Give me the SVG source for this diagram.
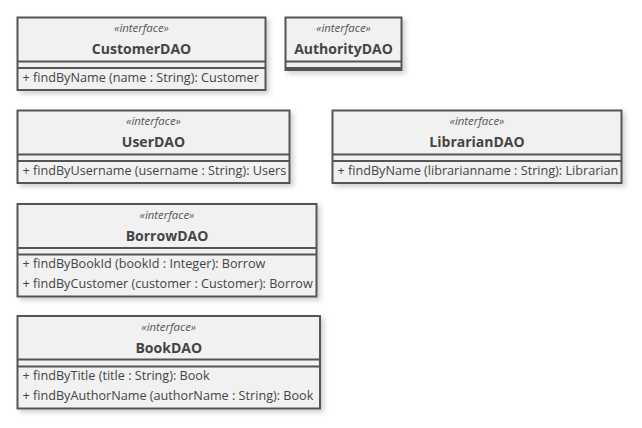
<svg xmlns="http://www.w3.org/2000/svg" width="642" height="428" viewBox="0 0 642 428">
<defs>
<filter id="sh" x="-10%" y="-10%" width="130%" height="140%">
<feDropShadow dx="3" dy="3" stdDeviation="2.5" flood-color="#000" flood-opacity="0.18"/>
</filter>
<style>
.box{fill:#f1f1f1;stroke:#555;stroke-width:2;filter:url(#sh)}
.sep{stroke:#555;stroke-width:2;fill:none}
.st{font-family:"Open Sans","Noto Sans",sans-serif;font-style:italic;font-size:11.4px;fill:#555;text-anchor:middle}
.nm{font-family:"Open Sans","Noto Sans",sans-serif;font-weight:bold;font-size:14px;fill:#444;text-anchor:middle}
.op{font-family:"Open Sans","Noto Sans",sans-serif;font-size:12.65px;fill:#444}
</style>
</defs>
<rect width="642" height="428" fill="#fff"/>
<g id="CustomerDAO">
<rect class="box" x="17.5" y="17.5" width="248" height="72.5"/>
<path class="sep" d="M17.5 61.5H265.5M17.5 68H265.5"/>
<text class="st" x="141.5" y="32">«interface»</text>
<text class="nm" x="141.5" y="54">CustomerDAO</text>
<text class="op" x="22.5" y="82">+ findByName (name : String): Customer</text>
</g>
<g id="AuthorityDAO">
<rect class="box" x="285.5" y="17.5" width="116" height="52.5"/>
<path class="sep" d="M285.5 61.5H401.5M285.5 68H401.5"/>
<text class="st" x="343.5" y="32">«interface»</text>
<text class="nm" x="343.5" y="54">AuthorityDAO</text>
</g>
<g id="UserDAO">
<rect class="box" x="17.5" y="110.5" width="272" height="72.5"/>
<path class="sep" d="M17.5 154.5H289.5M17.5 161H289.5"/>
<text class="st" x="153.5" y="125">«interface»</text>
<text class="nm" x="153.5" y="147">UserDAO</text>
<text class="op" x="22.5" y="175">+ findByUsername (username : String): Users</text>
</g>
<g id="LibrarianDAO">
<rect class="box" x="332.5" y="110.5" width="289" height="72.5"/>
<path class="sep" d="M332.5 154.5H621.5M332.5 161H621.5"/>
<text class="st" x="477" y="125">«interface»</text>
<text class="nm" x="477" y="147">LibrarianDAO</text>
<text class="op" x="337.5" y="175">+ findByName (librarianname : String): Librarian</text>
</g>
<g id="BorrowDAO">
<rect class="box" x="17.5" y="204" width="299" height="92.5"/>
<path class="sep" d="M17.5 248H316.5M17.5 254.5H316.5"/>
<text class="st" x="167" y="218.5">«interface»</text>
<text class="nm" x="167" y="240.5">BorrowDAO</text>
<text class="op" x="22.5" y="268">+ findByBookId (bookId : Integer): Borrow</text>
<text class="op" x="22.5" y="287.5">+ findByCustomer (customer : Customer): Borrow</text>
</g>
<g id="BookDAO">
<rect class="box" x="17.5" y="316" width="302.5" height="92.5"/>
<path class="sep" d="M17.5 359.5H320M17.5 366.5H320"/>
<text class="st" x="168.75" y="330.5">«interface»</text>
<text class="nm" x="168.75" y="352.5">BookDAO</text>
<text class="op" x="22.5" y="380">+ findByTitle (title : String): Book</text>
<text class="op" x="22.5" y="399.5">+ findByAuthorName (authorName : String): Book</text>
</g>
<g id="connectors"/>
</svg>
